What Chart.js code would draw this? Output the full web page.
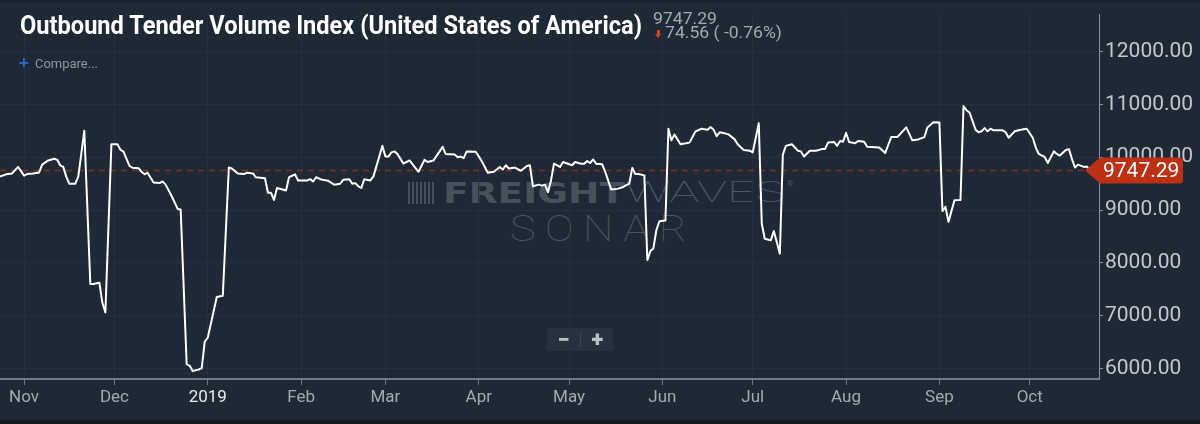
<!DOCTYPE html>
<html>
<head>
<meta charset="utf-8">
<script src="https://cdn.jsdelivr.net/npm/chart.js@4.4.1/dist/chart.umd.min.js"></script>
<style>
html,body{margin:0;padding:0;background:#1e2935;width:1200px;height:424px;overflow:hidden;font-family:Roboto,"Noto Sans",sans-serif}
#wrap{position:relative;width:1200px;height:424px}
#topband{position:absolute;left:0;top:0;width:1200px;height:2px;background:#19222c;z-index:0}
#botband{position:absolute;left:0;top:420px;width:1200px;height:4px;background:#131a21;z-index:3}
#chart{position:absolute;left:0;top:0;z-index:1}
.abs{position:absolute;white-space:nowrap;transform-origin:0 0}
.wm{z-index:0}
.hd{z-index:2}
#title{left:20px;top:12px;font:700 26px/26px Roboto,sans-serif;color:#ffffff}
#last{left:653px;top:10px;font:400 17px/17px Roboto,sans-serif;color:#a3abb2}
#chg{left:665px;top:24px;font:400 17px/17px Roboto,sans-serif;color:#a3abb2}
#arrowStem{position:absolute;left:657px;top:30px;width:3px;height:4px;background:#d5431c;z-index:2}
#arrowHead{position:absolute;left:655px;top:34px;width:0;height:0;border-left:3.5px solid transparent;border-right:3.5px solid transparent;border-top:4px solid #d5431c;z-index:2}
#cmpPlus{left:18px;top:55px;font:700 14px/14px "DejaVu Sans",sans-serif;color:#2f6fd0}
#cmp{left:35px;top:58px;font:400 12.5px/12.5px Roboto,sans-serif;color:#8f98a0}
#wmIcon{left:408px;top:182px;width:27px;height:22px;background:repeating-linear-gradient(90deg,#45525e 0 2px,transparent 2px 4px)}
#wmBold{left:443px;top:179px;font:700 29px/29px "DejaVu Sans",sans-serif;color:#45525e}
#wmThin{left:625px;top:178px;font:100 29px/29px Roboto,sans-serif;color:#4d5965}
#wmReg{left:787px;top:180px;font:400 8px/8px Roboto,sans-serif;color:#4d5965}
#wmSonar{left:510px;top:211px;font:100 36px/36px Roboto,sans-serif;color:#4a5661;letter-spacing:8px}
#zoomBox{position:absolute;left:547px;top:328px;width:66px;height:23px;background:#27323e;border-radius:4px;z-index:2}
#zoomBox .b{position:absolute;top:0;width:33px;height:23px;text-align:center;font:900 22px/23px Roboto,sans-serif;color:#b9bfc5}
#zoomBox .sep{position:absolute;left:33px;top:4px;width:1px;height:15px;background:#3c4855}
</style>
</head>
<body>
<div id="wrap">
  <div id="topband"></div>
  <div class="abs wm" id="wmIcon"></div>
  <div class="abs wm" id="wmBold">FREIGHT</div>
  <div class="abs wm" id="wmThin">WAVES</div>
  <div class="abs wm" id="wmReg">®</div>
  <div class="abs wm" id="wmSonar">SONAR</div>
  <canvas id="chart" width="1200" height="424"></canvas>
  <div class="abs hd" id="title">Outbound Tender Volume Index (United States of America)</div>
  <div class="abs hd" id="last">9747.29</div>
  <div id="arrowStem"></div><div id="arrowHead"></div>
  <div class="abs hd" id="chg">74.56 ( -0.76%)</div>
  <div class="abs hd" id="cmpPlus">+</div>
  <div class="abs hd" id="cmp">Compare...</div>
  <div id="zoomBox"><div class="b" style="left:0">−</div><div class="sep"></div><div class="b" style="left:34px">+</div></div>
  <div id="botband"></div>
</div>
<script>
// Day offsets counted from 2018-11-01 (day 0)
const dayOffsets = [
 -8,-6,-4,-2,0,1,3,5,6,8,10,11,12,13,14,15,17,18,19,20,
 22,23,25,26,27,29,31,32,33,35,36,38,39,40,41,43,45,46,47,49,
 51,52,54,55,56,58,59,60,61,64,66,68,69,71,73,74,76,77,80,81,
 82,83,84,87,88,90,91,94,95,96,97,99,101,103,105,106,108,109,110,111,
 112,113,115,116,119,120,121,122,123,124,126,128,131,133,134,136,139,140,143,144,
 145,146,147,150,152,154,156,158,159,160,161,163,165,167,168,169,171,172,173,174,
 175,176,178,179,182,183,185,186,187,188,189,190,192,193,195,197,199,201,202,203,
 204,206,207,208,209,210,211,213,214,215,216,218,221,223,225,227,228,229,230,231,
 233,234,236,237,239,241,242,244,245,246,248,249,251,252,253,255,257,258,259,261,
 263,265,266,267,269,270,271,272,273,274,276,277,279,280,284,286,288,290,291,293,
 295,297,299,300,302,304,305,306,307,309,311,312,313,314,316,317,318,319,320,321,
 322,325,326,327,328,329,331,333,335,336,337,339,340,342,343,344,346,347,348,349,
 350,352,353,354
];
const indexValues = [
 9632,9675,9693,9816,9650,9680,9690,9712,9860,9939,9970,9951,9847,9816,9632,9498,9498,9632,10061,10502,
 7598,7598,7623,7243,7060,10245,10245,10141,10104,9835,9800,9792,9724,9675,9706,9522,9510,9540,9480,9265,
 9020,9010,6080,6050,5950,5980,6006,6508,6581,7353,7377,9804,9786,9693,9680,9706,9693,9620,9602,9326,
 9326,9191,9418,9369,9620,9675,9559,9559,9584,9540,9620,9571,9553,9480,9498,9571,9584,9498,9510,9449,
 9418,9584,9560,9632,10214,10012,10012,10092,10110,10061,9877,9939,9724,9951,9908,9939,10196,10061,10049,10000,
 10012,9982,10110,10104,9926,9706,9724,9816,9767,9847,9786,9804,9742,9835,9847,9449,9480,9461,9480,9338,
 9560,9877,9816,9908,9847,9908,9877,9877,9926,9890,9957,9877,9865,9724,9387,9400,9436,9498,9798,9681,
 9681,9656,8052,8223,8272,8621,8787,8800,10539,10319,10429,10245,10276,10490,10539,10521,10570,10521,10399,10472,
 10447,10429,10337,10245,10135,10123,10092,10643,8740,8456,8425,8603,8174,10050,10214,10245,10123,10110,10012,10123,
 10123,10153,10153,10276,10288,10214,10306,10294,10460,10288,10263,10306,10294,10196,10184,10080,10380,10380,10441,10564,
 10319,10337,10380,10564,10662,10656,8980,9062,8775,9185,9191,10969,10888,10846,10521,10472,10490,10551,10490,10539,
 10509,10509,10472,10368,10429,10490,10521,10539,10368,10184,10061,10000,9890,10110,10061,10031,10135,10153,9969,9804,
 9859,9816,9822,9747.29
];
const monthTickDays = [0,30,61,92,120,151,181,212,242,273,304,334];
const monthTickLabels = ['Nov','Dec','2019','Feb','Mar','Apr','May','Jun','Jul','Aug','Sep','Oct'];
const yTickValues = [6000,7000,8000,9000,10000,11000,12000];
const lastValue = 9747.29;

const points = dayOffsets.map((d,i)=>({x:d,y:indexValues[i]}));

const refPlugin = {
  id:'refTag',
  beforeDatasetsDraw(chart){
    const {ctx, chartArea, scales} = chart;
    const yp = scales.y.getPixelForValue(lastValue);
    const xe = scales.x.getPixelForValue(dayOffsets[dayOffsets.length-1]);
    ctx.save();
    ctx.strokeStyle = '#83311f';
    ctx.lineWidth = 1.5;
    ctx.setLineDash([6,5]);
    ctx.beginPath();
    ctx.moveTo(chartArea.left, yp);
    ctx.lineTo(xe, yp);
    ctx.stroke();
    ctx.restore();
  },
  afterDraw(chart){
    const {ctx, chartArea, scales} = chart;
    const yp = scales.y.getPixelForValue(lastValue);
    const r = chartArea.right;
    const tip = r - 14, left = r + 1, right = r + 84, h = 13, rad = 3;
    ctx.save();
    ctx.fillStyle = '#bc3113';
    ctx.beginPath();
    ctx.moveTo(tip, yp);
    ctx.lineTo(left, yp - h);
    ctx.lineTo(right - rad, yp - h);
    ctx.quadraticCurveTo(right, yp - h, right, yp - h + rad);
    ctx.lineTo(right, yp + h - rad);
    ctx.quadraticCurveTo(right, yp + h, right - rad, yp + h);
    ctx.lineTo(left, yp + h);
    ctx.closePath();
    ctx.fill();
    ctx.fillStyle = '#ffffff';
    ctx.font = '21px Roboto';
    ctx.textBaseline = 'middle';
    ctx.textAlign = 'left';
    ctx.fillText(lastValue.toFixed(2), r + 4, yp + 1);
    ctx.restore();
  }
};

new Chart(document.getElementById('chart'), {
  type:'line',
  data:{datasets:[{
    data:points,
    borderColor:'#ffffff',
    borderWidth:2,
    pointRadius:0,
    pointHoverRadius:0,
    tension:0,
    borderJoinStyle:'round',
    fill:false
  }]},
  options:{
    responsive:false,
    animation:false,
    devicePixelRatio:1,
    layout:{padding:{top:3,left:0,right:0,bottom:0}},
    plugins:{legend:{display:false},tooltip:{enabled:false},title:{display:false}},
    scales:{
      x:{
        type:'linear',
        position:'bottom',
        min:-8, max:357,
        afterBuildTicks:(s)=>{ s.ticks = monthTickDays.map(v=>({value:v})); },
        afterFit:(s)=>{ s.height = 45; },
        ticks:{
          autoSkip:false,
          maxRotation:0,
          padding:3,
          font:{family:'Roboto',size:17},
          color:(c)=> (c.tick && c.tick.value===61) ? '#e9ebed' : '#a3aab1',
          callback:(v)=>{ const i = monthTickDays.indexOf(v); return i>=0 ? monthTickLabels[i] : ''; }
        },
        grid:{color:'#25303c',lineWidth:1,drawTicks:true,tickLength:6,tickColor:'#6f7a85'},
        border:{display:true,color:'#6f7a85',width:2}
      },
      y:{
        position:'right',
        min:5800, max:12700,
        afterBuildTicks:(s)=>{ s.ticks = yTickValues.map(v=>({value:v})); },
        afterFit:(s)=>{ s.width = 101; },
        ticks:{
          padding:2,
          font:{family:'Roboto',size:21},
          color:'#c3c8cd',
          callback:(v)=> Number(v).toFixed(2)
        },
        grid:{color:'#26313d',lineWidth:1,drawTicks:true,tickLength:4,tickColor:'#8d969f'},
        border:{display:true,color:'#8d969f',width:1}
      }
    }
  },
  plugins:[refPlugin]
});

function fitWidth(id, w){
  const el = document.getElementById(id);
  const cur = el.getBoundingClientRect().width;
  if (cur > 0) el.style.transform = 'scaleX(' + (w/cur) + ')';
}
fitWidth('title', 622);
fitWidth('last', 64);
fitWidth('chg', 117);
fitWidth('cmp', 63);
fitWidth('wmBold', 182);
fitWidth('wmThin', 160);
fitWidth('wmSonar', 186);
</script>
</body>
</html>
